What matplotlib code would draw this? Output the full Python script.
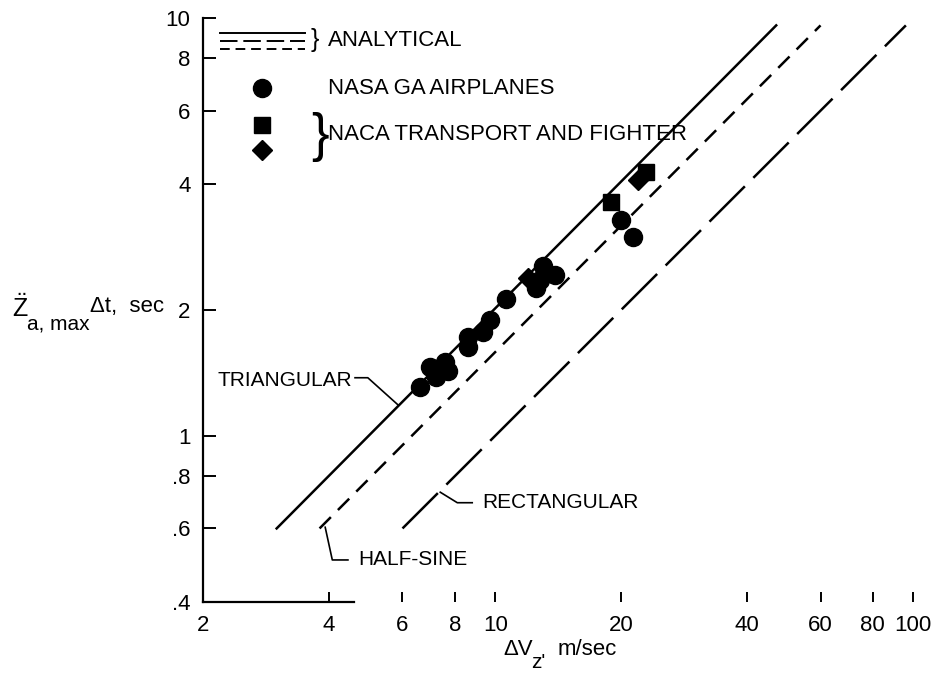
import numpy as np
import matplotlib.pyplot as plt

plt.rcParams['font.family'] = ['Liberation Sans', 'DejaVu Sans']
plt.rcParams['mathtext.fontset'] = 'custom'
plt.rcParams['mathtext.rm'] = 'Liberation Sans'
plt.rcParams['mathtext.it'] = 'Liberation Sans'
plt.rcParams['mathtext.default'] = 'regular'

# analytical curves (end points)
tri_x = [3.0, 47.0]
tri_y = [0.6, 9.6]
sine_x = [3.8, 60.0]
sine_y = [0.6, 9.6]
rect_x = [6.0, 96.0]
rect_y = [0.6, 9.6]

# NASA GA airplanes (circles)
ga_dv = [6.6, 7.0, 7.2, 7.6, 7.7, 8.6, 8.6, 9.35, 9.7, 10.6, 12.5, 12.8, 13.0, 13.9, 20.0, 21.3]
ga_zt = [1.31, 1.46, 1.38, 1.50, 1.43, 1.72, 1.63, 1.77, 1.89, 2.13, 2.26, 2.36, 2.55, 2.43, 3.29, 2.99]

# NACA transport and fighter
sq_dv = [18.9, 22.9]
sq_zt = [3.63, 4.28]
dm_dv = [12.0, 21.9]
dm_zt = [2.39, 4.10]

xticks = [2, 4, 6, 8, 10, 20, 40, 60, 80, 100]
yticks = [0.4, 0.6, 0.8, 1, 2, 4, 6, 8, 10]
ylabels = ['.4', '.6', '.8', '1', '2', '4', '6', '8', '10']

W, H = 947, 681
fig = plt.figure(figsize=(W / 100, H / 100), dpi=100)
ax = fig.add_axes([0.2144, 0.116, 0.75, 0.8576])
ax.set_xscale('log')
ax.set_yscale('log')
ax.set_xlim(2, 100)
ax.set_ylim(0.4, 10)

lw = 1.8
ax.plot(tri_x, tri_y, color='black', lw=lw)
ax.plot(sine_x, sine_y, color='black', lw=lw, linestyle=(0, (6.4, 4)))
ax.plot(rect_x, rect_y, color='black', lw=lw, linestyle=(0, (20, 4.8)))

ax.plot(ga_dv, ga_zt, 'o', color='black', ms=13, ls='none')
ax.plot(sq_dv, sq_zt, 's', color='black', ms=11, ls='none')
ax.plot(dm_dv, dm_zt, 'D', color='black', ms=10, ls='none')

ax.set_xticks(xticks)
ax.set_xticklabels([str(v) for v in xticks])
ax.set_yticks(yticks)
ax.set_yticklabels(ylabels)
ax.minorticks_off()
ax.tick_params(axis='x', direction='in', length=7, width=1.4, pad=9, labelsize=16)
ax.tick_params(axis='y', direction='in', length=9, width=1.4, pad=9, labelsize=16)

for s in ['top', 'right']:
    ax.spines[s].set_visible(False)
ax.spines['left'].set_linewidth(1.6)
ax.spines['bottom'].set_linewidth(1.6)
ax.spines['bottom'].set_bounds(2, 4.6)

tr = ax.transAxes
# legend block
ax.plot([0.024, 0.144], [0.974, 0.974], color='black', lw=1.4, transform=tr)
ax.plot([0.024, 0.144], [0.961, 0.961], color='black', lw=1.4, transform=tr,
        linestyle=(0, (9, 3)))
ax.plot([0.024, 0.144], [0.947, 0.947], color='black', lw=1.4, transform=tr,
        linestyle=(0, (5, 3)))
ax.text(0.151, 0.962, '}', transform=tr, fontsize=18, ha='left', va='center')
ax.text(0.176, 0.962, 'ANALYTICAL', transform=tr, fontsize=16, ha='left', va='center')

ax.plot([0.083], [0.880], 'o', color='black', ms=13, transform=tr)
ax.text(0.176, 0.880, 'NASA GA AIRPLANES', transform=tr, fontsize=16, ha='left', va='center')

ax.plot([0.083], [0.817], 's', color='black', ms=11, transform=tr)
ax.plot([0.083], [0.774], 'D', color='black', ms=10, transform=tr)
ax.text(0.152, 0.796, '}', transform=tr, fontsize=38, ha='left', va='center',
        fontweight='light')
ax.text(0.176, 0.800, 'NACA TRANSPORT AND FIGHTER', transform=tr, fontsize=16,
        ha='left', va='center')

# curve labels with leader lines
ax.text(0.021, 0.380, 'TRIANGULAR', transform=tr, fontsize=15, ha='left', va='center')
ax.plot([0.214, 0.232, 0.275], [0.384, 0.384, 0.337], color='black', lw=1.2, transform=tr)

ax.text(0.218, 0.072, 'HALF-SINE', transform=tr, fontsize=15, ha='left', va='center')
ax.plot([0.172, 0.182, 0.204], [0.128, 0.072, 0.072], color='black', lw=1.2, transform=tr)

ax.text(0.393, 0.170, 'RECTANGULAR', transform=tr, fontsize=15, ha='left', va='center')
ax.plot([0.334, 0.358, 0.379], [0.188, 0.170, 0.170], color='black', lw=1.2, transform=tr)

# axis titles, built from pieces (pixel positions of the baselines)
def ftext(px, py, s, size):
    fig.text(px / W, 1 - py / H, s, fontsize=size, ha='left', va='baseline')

ftext(12, 317, r'$\ddot{Z}$', 18)
ftext(27, 329, 'a, max', 15)
ftext(90, 312, '\u0394t,  sec', 16)

ftext(503, 655, '\u0394V', 16)
ftext(531, 668, "z'", 15)
ftext(558, 655, 'm/sec', 16)

fig.savefig('out.png', dpi=100, facecolor='white')
